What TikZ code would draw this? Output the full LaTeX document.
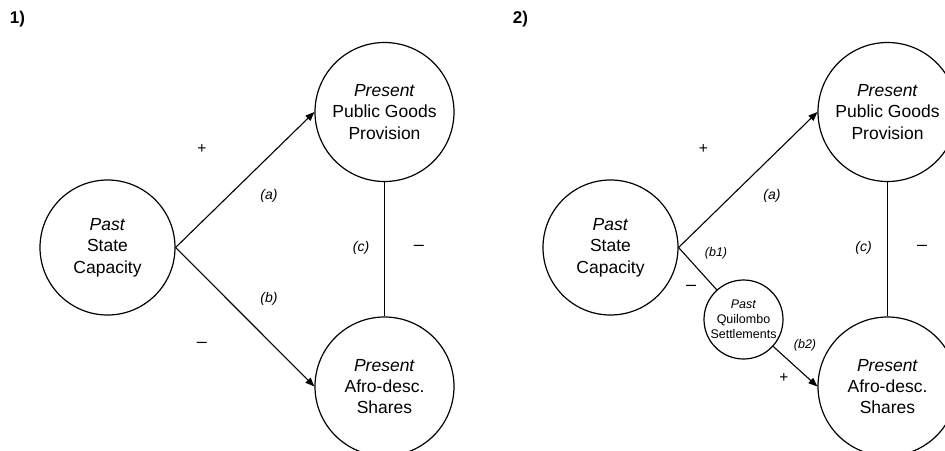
\documentclass[tikz,border=0pt]{standalone}
\usepackage{fontspec}
\setmainfont{Liberation Sans}
\usetikzlibrary{arrows.meta}
\tikzset{
  bigc/.style={draw, circle, line width=1.2pt, inner sep=0pt, align=center,
    font=\fontsize{17.5}{21.3}\selectfont},
  smallc/.style={draw, circle, line width=1.2pt, inner sep=0pt, align=center,
    minimum size=79pt, font=\fontsize{12.5}{15}\selectfont},
  conn/.style={line width=1.1pt},
  arr/.style={line width=1.1pt, -{Triangle[length=9pt,width=7pt]}},
  lab/.style={inner sep=0pt, font=\fontsize{14}{16}\selectfont\itshape},
  slab/.style={inner sep=0pt, font=\fontsize{12.5}{14}\selectfont\itshape},
  sgn/.style={inner sep=0pt, font=\fontsize{15.5}{17}\selectfont},
  dsh/.style={inner sep=0pt, font=\fontsize{18}{20}\selectfont},
  ttl/.style={inner sep=0pt, font=\fontsize{17}{19}\selectfont\bfseries},
}
\begin{document}
\begin{tikzpicture}[x=1pt,y=-1pt]
\clip (0,0) rectangle (945,450);
\fill[white] (0,0) rectangle (945,450);
% panel 1
\node[ttl] (t1) at (17.5,19) {1)};
\node[bigc, minimum size=135pt] (past1) at (107.5,247.5) {\textit{Past}\\State\\Capacity};
\node[bigc, minimum size=139pt] (pg1) at (384.5,112) {\textit{Present}\\Public Goods\\Provision};
\node[bigc, minimum size=139pt] (af1) at (384.5,386.5) {\textit{Present}\\Afro-desc.\\Shares};
\draw[arr] (past1.east) -- (pg1.west);
\draw[arr] (past1.east) -- (af1.west);
\draw[conn] (pg1.south) -- (af1.north);
\node[sgn] (p1a) at (202,149) {+};
\node[lab] (la1) at (269,196) {(a)};
\node[lab] (lb1) at (269,299) {(b)};
\node[dsh] (m1b) at (202,345) {–};
\node[lab] (lc1) at (361,248) {(c)};
\node[dsh] (m1c) at (419,248) {–};
% panel 2
\node[ttl] (t2) at (520.5,19) {2)};
\node[bigc, minimum size=135pt] (past2) at (610.5,247.5) {\textit{Past}\\State\\Capacity};
\node[bigc, minimum size=139pt] (pg2) at (887.5,112) {\textit{Present}\\Public Goods\\Provision};
\node[bigc, minimum size=139pt] (af2) at (887.5,386.5) {\textit{Present}\\Afro-desc.\\Shares};
\node[smallc] (quil) at (743.5,319.5) {\textit{Past}\\Quilombo\\Settlements};
\draw[arr] (past2.east) -- (pg2.west);
\draw[conn] (past2.east) -- (quil);
\draw[arr] (quil) -- (af2.west);
\draw[conn] (pg2.south) -- (af2.north);
\node[sgn] (p2a) at (703.5,149) {+};
\node[lab] (la2) at (772,196) {(a)};
\node[slab] (lb12) at (716,253) {(b1)};
\node[dsh] (m2b) at (691,288) {–};
\node[slab] (lb22) at (805,345) {(b2)};
\node[sgn] (p2b) at (784,378) {+};
\node[lab] (lc2) at (863.5,248) {(c)};
\node[dsh] (m2c) at (922,248) {–};
\end{tikzpicture}
\end{document}
